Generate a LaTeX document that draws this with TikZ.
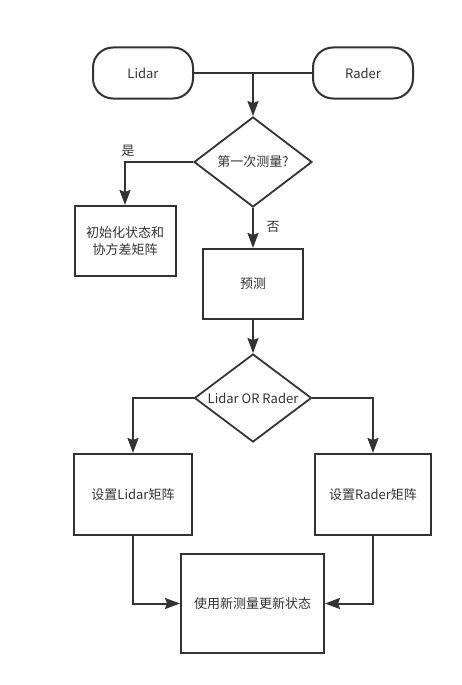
\documentclass[tikz,border=0pt]{standalone}
\usepackage{fontspec}
\setmainfont{Noto Sans CJK SC}
\usetikzlibrary{shapes.geometric,arrows.meta}
\definecolor{ln}{HTML}{333333}
\begin{document}
\begin{tikzpicture}[x=1pt,y=-1pt,
  every node/.style={font=\fontsize{13pt}{17pt}\selectfont, text=ln},
  box/.style={draw=ln, line width=2pt, rectangle, inner sep=0pt, align=center},
  term/.style={box, rounded corners=20pt, minimum width=100pt, minimum height=51pt},
  dia/.style={draw=ln, line width=1.8pt, diamond, aspect=1.33, inner sep=0pt},
  conn/.style={draw=ln, line width=2pt},
  arr/.style={conn, -{Stealth[length=15pt,width=11pt,inset=2pt]}},
  lbl/.style={inner sep=0pt}
]
\useasboundingbox (0,0) rectangle (462,685);
\node[term] (lidar) at (143,73) {Lidar};
\node[term] (rader) at (363,73) {Rader};
\coordinate (j) at (253,73);
\node[dia, minimum width=118pt, minimum height=90pt] (d1) at (253,162) {第一次测量?};
\node[box, minimum width=101pt, minimum height=70pt] (init) at (125,241) {初始化状态和\\协方差矩阵};
\node[box, minimum width=100pt, minimum height=70pt] (pred) at (253,284) {预测};
\node[dia, minimum width=117pt, minimum height=88pt] (d2) at (253,398) {Lidar OR Rader};
\node[box, minimum width=118pt, minimum height=81pt] (setl) at (133,494.5) {设置Lidar矩阵};
\node[box, minimum width=116pt, minimum height=81pt] (setr) at (373,494.5) {设置Rader矩阵};
\node[box, minimum width=143pt, minimum height=99pt] (upd) at (252.5,603.5) {使用新测量更新状态};
\node[lbl] (yes) at (128,151) {是};
\node[lbl] (no) at (273,227) {否};

\draw[conn] (lidar.east) -- (rader.west);
\draw[arr] (j) -- (d1.north);
\draw[arr] (d1.west) -| (init.north);
\draw[arr] (d1.south) -- (pred.north);
\draw[arr] (pred.south) -- (d2.north);
\draw[arr] (d2.west) -| (setl.north);
\draw[arr] (d2.east) -| (setr.north);
\draw[arr] (setl.south) |- (upd.west);
\draw[arr] (setr.south) |- (upd.east);
\end{tikzpicture}
\end{document}
